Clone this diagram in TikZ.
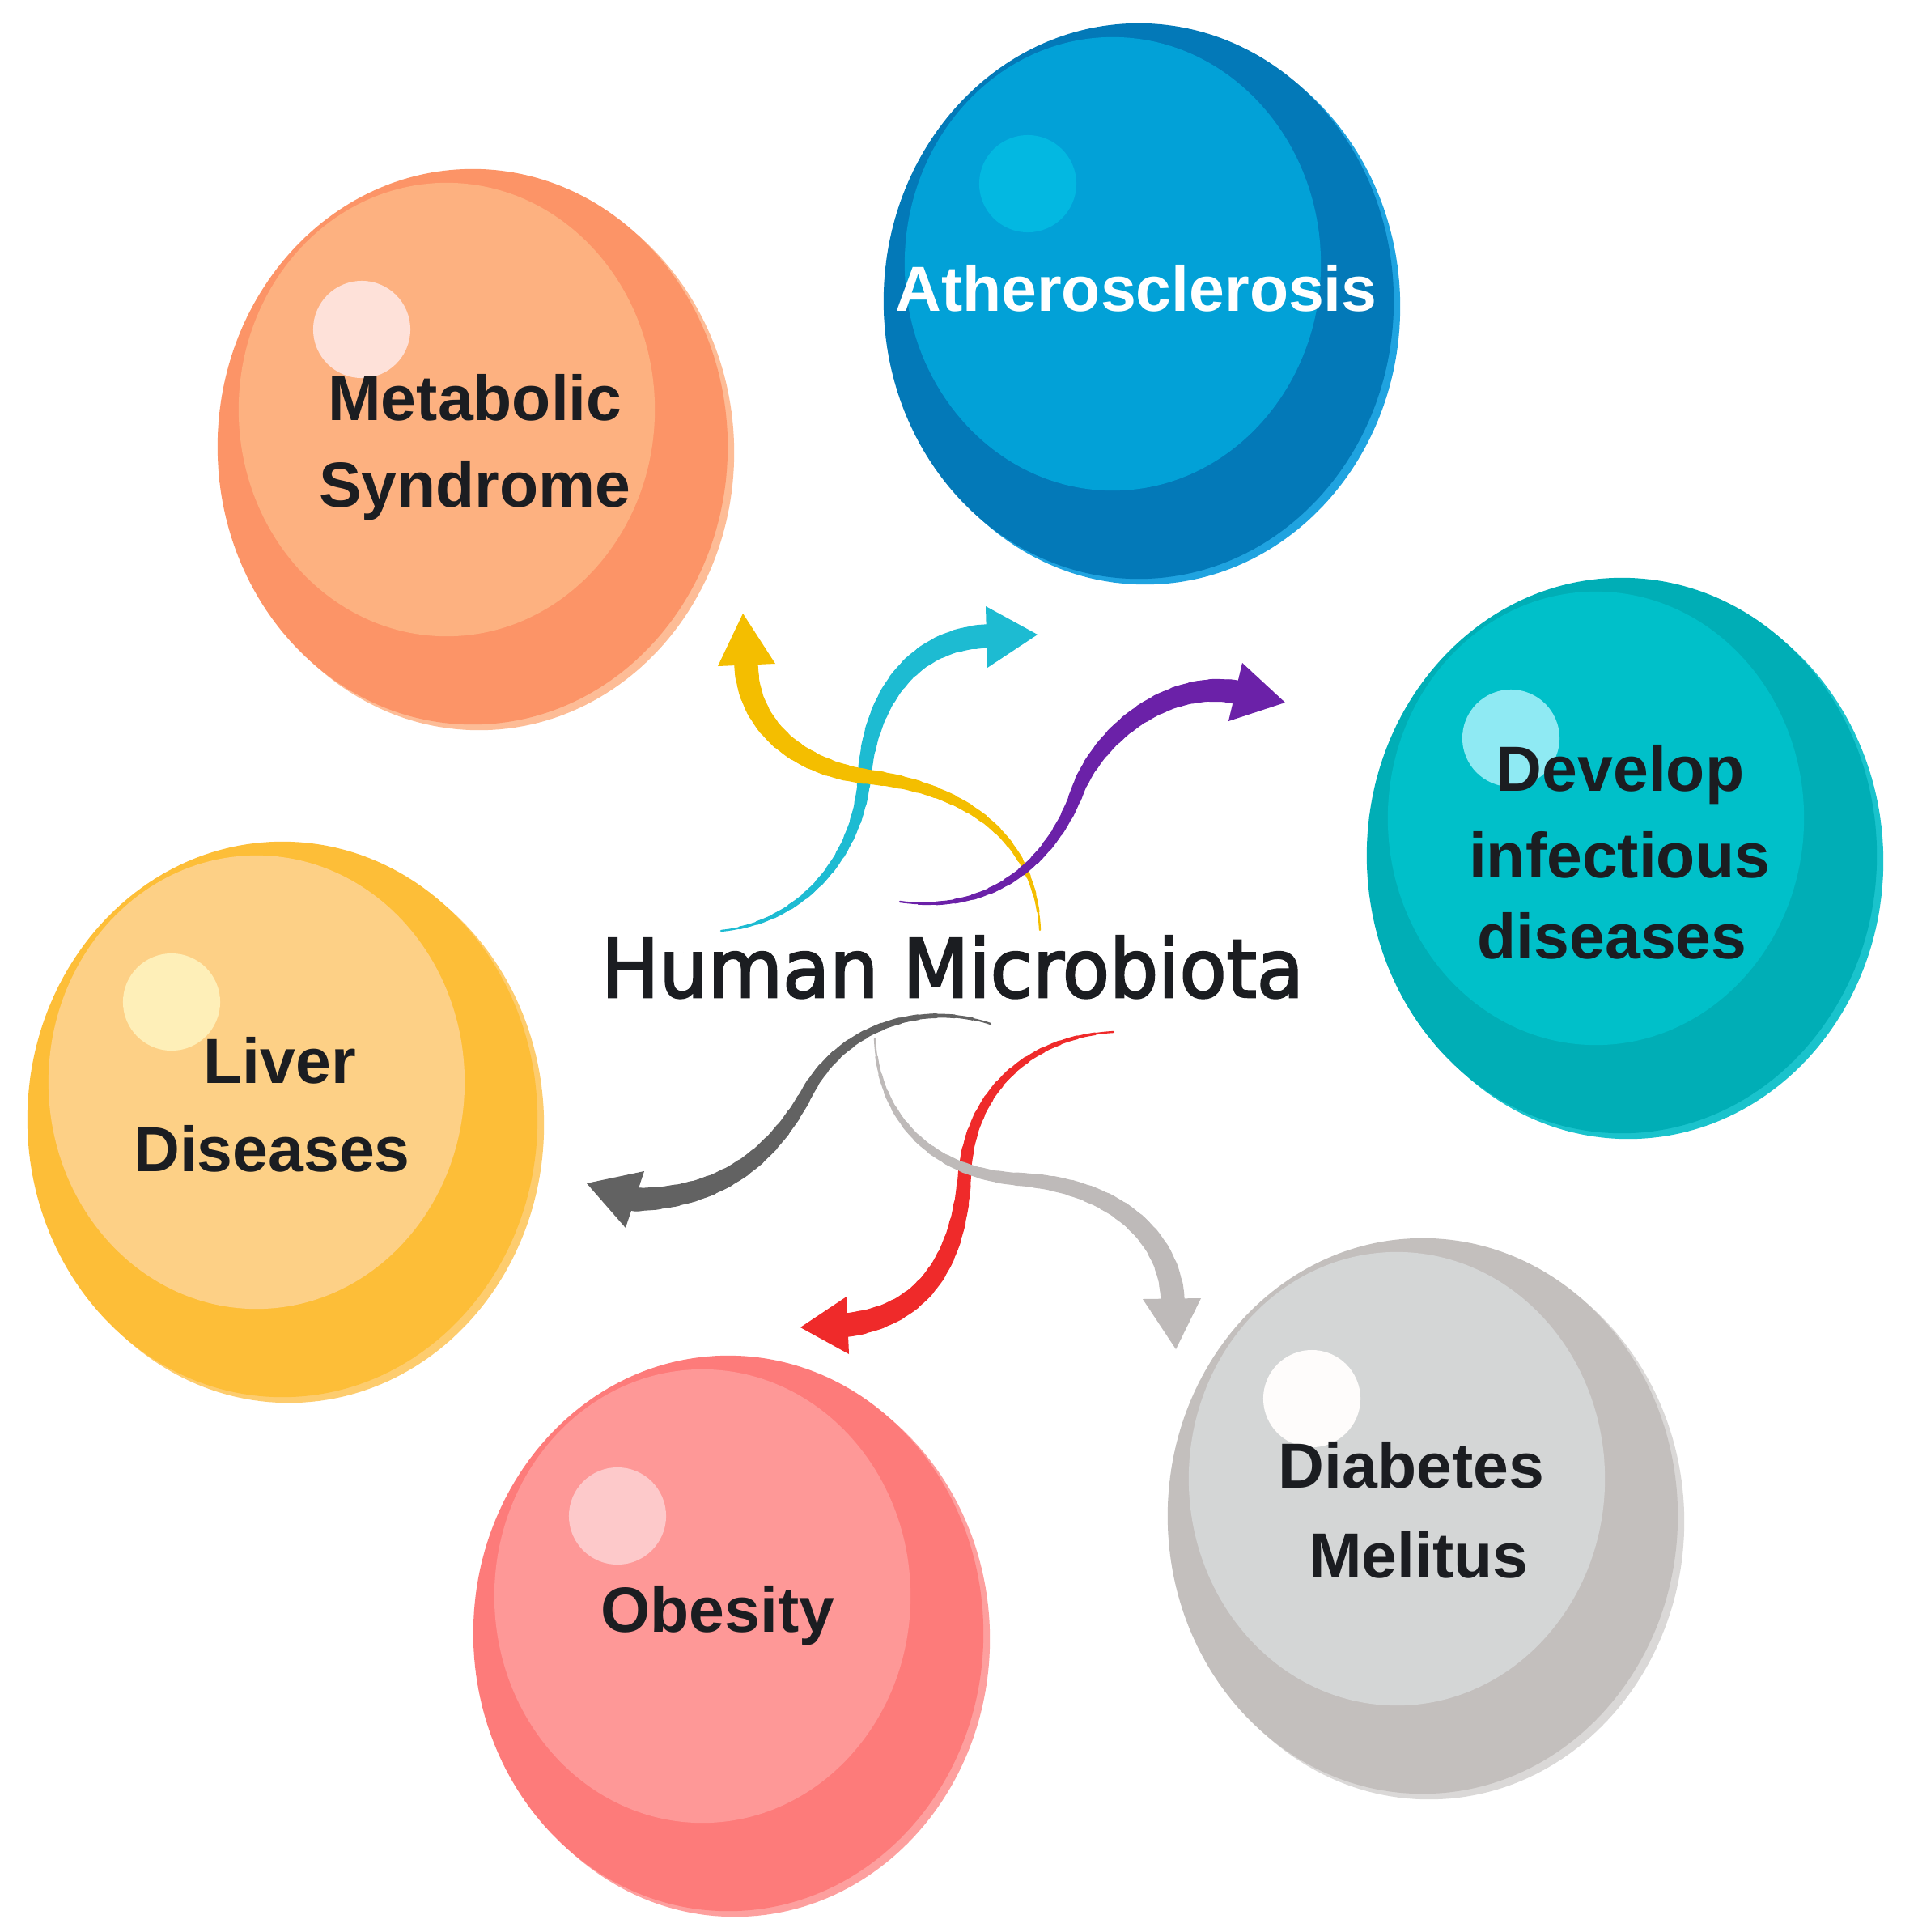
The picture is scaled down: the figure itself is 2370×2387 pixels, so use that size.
\documentclass[tikz,border=0pt]{standalone}
\usepackage{fontspec}
\usetikzlibrary{shapes.geometric}
\newfontfamily\labfont{Liberation Sans}
\newfontfamily\titfont{DejaVu Sans}[FakeBold=2.5, FakeStretch=0.95]
\definecolor{metRim}{HTML}{FDBC96}\definecolor{metOut}{HTML}{FC9467}\definecolor{metIn}{HTML}{FDB180}\definecolor{metHl}{HTML}{FEE1D9}
\definecolor{athRim}{HTML}{1FA3E0}\definecolor{athOut}{HTML}{0379B8}\definecolor{athIn}{HTML}{02A1D7}\definecolor{athHl}{HTML}{03B8E1}
\definecolor{devRim}{HTML}{1AC3CC}\definecolor{devOut}{HTML}{00AEB6}\definecolor{devIn}{HTML}{00C0C9}\definecolor{devHl}{HTML}{8FEAF3}
\definecolor{livRim}{HTML}{FDCC6E}\definecolor{livOut}{HTML}{FDBE38}\definecolor{livIn}{HTML}{FDD086}\definecolor{livHl}{HTML}{FEEFB8}
\definecolor{obeRim}{HTML}{FD9F9E}\definecolor{obeOut}{HTML}{FD7B7A}\definecolor{obeIn}{HTML}{FE9897}\definecolor{obeHl}{HTML}{FDC9CA}
\definecolor{diaRim}{HTML}{DAD8D7}\definecolor{diaOut}{HTML}{C3BFBD}\definecolor{diaIn}{HTML}{D4D6D6}\definecolor{diaHl}{HTML}{FEFCFB}
\definecolor{ylw}{HTML}{F4BE00}\definecolor{cyn}{HTML}{1DBBD2}\definecolor{prp}{HTML}{6B21A8}
\definecolor{dgr}{HTML}{626262}\definecolor{rdd}{HTML}{EF2A2A}\definecolor{lgr}{HTML}{BEBAB9}
\definecolor{txt}{HTML}{1B1D21}
\newcommand\mysphere[7]{%
  \fill[#4] (#2+8,#3+7) ellipse [x radius=3.15cm, y radius=3.43cm];
  \node[ellipse, fill=#5, inner sep=0pt, minimum width=6.3cm, minimum height=6.86cm] (#1) at (#2,#3) {};
  \fill[#6] (#2-32,#3-46) ellipse [x radius=2.57cm, y radius=2.80cm];
  \fill[#7] (#2-137,#3-145) circle [radius=0.6cm];
}
% tapered stroke: 24 layers, each drawn only from a growing distance onward
\newcommand\taperline[2]{%
  \foreach \k in {0,...,23}{%
    \pgfmathsetmacro\twid{0.5+8.0*(\k+0.5)/24}%
    \pgfmathsetmacro\tpha{2000-155*\k/24}%
    \draw[#1, line width=\twid pt, line cap=round, dash pattern=on 1000pt off 1000pt, dash phase=\tpha pt] #2;
  }%
}
\tikzset{
  lbl/.style={anchor=base, inner sep=0pt, text=txt, font=\labfont\bfseries\fontsize{22.4}{27}\selectfont}
}
\begin{document}
\begin{tikzpicture}[x=0.01cm, y=-0.01cm]
\fill[white] (0,0) rectangle (2370,2387);
\useasboundingbox (0,0) rectangle (2370,2387);

% spheres
\mysphere{met}{584}{552}{metRim}{metOut}{metIn}{metHl}
\mysphere{ath}{1407}{372}{athRim}{athOut}{athIn}{athHl}
\mysphere{dev}{2004}{1057}{devRim}{devOut}{devIn}{devHl}
\mysphere{liv}{349}{1383}{livRim}{livOut}{livIn}{livHl}
\mysphere{obe}{900}{2018}{obeRim}{obeOut}{obeIn}{obeHl}
\mysphere{dia}{1758}{1873}{diaRim}{diaOut}{diaIn}{diaHl}

% arrow end points
\coordinate (cT) at (891,1150);  \coordinate (cM) at (1068,960);  \coordinate (cB) at (1219,786);
\coordinate (cTip) at (1282,784); \coordinate (c1) at (1218,749); \coordinate (c2) at (1220,825);
\coordinate (yT) at (1285,1149); \coordinate (yM) at (1075,960); \coordinate (yB) at (922,822);
\coordinate (yTip) at (918,758); \coordinate (y1) at (887,823); \coordinate (y2) at (958,820);
\coordinate (pT) at (1112,1114); \coordinate (pM) at (1330,981); \coordinate (pB) at (1527,855);
\coordinate (pTip) at (1588,868); \coordinate (p1) at (1535,819); \coordinate (p2) at (1518,891);
\coordinate (gT) at (1224,1265); \coordinate (gM) at (1000,1345); \coordinate (gB) at (785,1482);
\coordinate (gTip) at (725,1462); \coordinate (g1) at (796,1447); \coordinate (g2) at (773,1517);
\coordinate (rT) at (1376,1275); \coordinate (rM) at (1192,1450); \coordinate (rB) at (1047,1637);
\coordinate (rTip) at (989,1640); \coordinate (r1) at (1046,1602); \coordinate (r2) at (1049,1673);
\coordinate (lT) at (1081,1283); \coordinate (lM) at (1260,1457); \coordinate (lB) at (1449,1605);
\coordinate (lTip) at (1453,1667); \coordinate (l1) at (1412,1605); \coordinate (l2) at (1484,1604);

% cyan
\taperline{cyn}{(cT) .. controls (990,1140) and (1060,1060) .. (cM) .. controls (1076,860) and (1130,790) .. (cB)}
\fill[cyn] (c1) -- (cTip) -- (c2) -- cycle;
% yellow
\taperline{ylw}{(yT) .. controls (1280,1040) and (1200,975) .. (yM) .. controls (990,950) and (925,900) .. (yB)}
\fill[ylw] (y1) -- (yTip) -- (y2) -- cycle;
% purple
\taperline{prp}{(pT) .. controls (1230,1130) and (1300,1060) .. (pM) .. controls (1355,910) and (1440,840) .. (pB)}
\fill[prp] (p1) -- (pTip) -- (p2) -- cycle;
% dark grey
\taperline{dgr}{(gT) .. controls (1150,1240) and (1050,1260) .. (gM) .. controls (960,1420) and (900,1480) .. (gB)}
\fill[dgr] (g1) -- (gTip) -- (g2) -- cycle;
% red
\taperline{rdd}{(rT) .. controls (1280,1280) and (1200,1340) .. (rM) .. controls (1185,1560) and (1140,1625) .. (rB)}
\fill[rdd] (r1) -- (rTip) -- (r2) -- cycle;
% light grey
\taperline{lgr}{(lT) .. controls (1085,1380) and (1150,1450) .. (lM) .. controls (1380,1465) and (1445,1530) .. (lB)}
\fill[lgr] (l1) -- (lTip) -- (l2) -- cycle;

% labels
\node[lbl] (met1) at (587,519) {Metabolic};
\node[lbl] (met2) at (587,626) {Syndrome};
\node[lbl, text=white] (ath1) at (1404,384) {Atherosclerosis};
\node[lbl] (dev1) at (2002,977) {Develop};
\node[lbl] (dev2) at (2001,1084) {infectious};
\node[lbl] (dev3) at (1992,1184) {diseases};
\node[lbl] (liv1) at (346,1338) {Liver};
\node[lbl] (liv2) at (336,1447) {Diseases};
\node[lbl] (obe1) at (887,2016) {Obesity};
\node[lbl] (dia1) at (1744,1838) {Diabetes};
\node[lbl] (dia2) at (1753,1949) {Melitus};
\node[anchor=base, inner sep=0pt, text=txt, font=\titfont\fontsize{28.4}{34}\selectfont] (hm) at (1177,1232) {Human Microbiota};
\end{tikzpicture}
\end{document}
